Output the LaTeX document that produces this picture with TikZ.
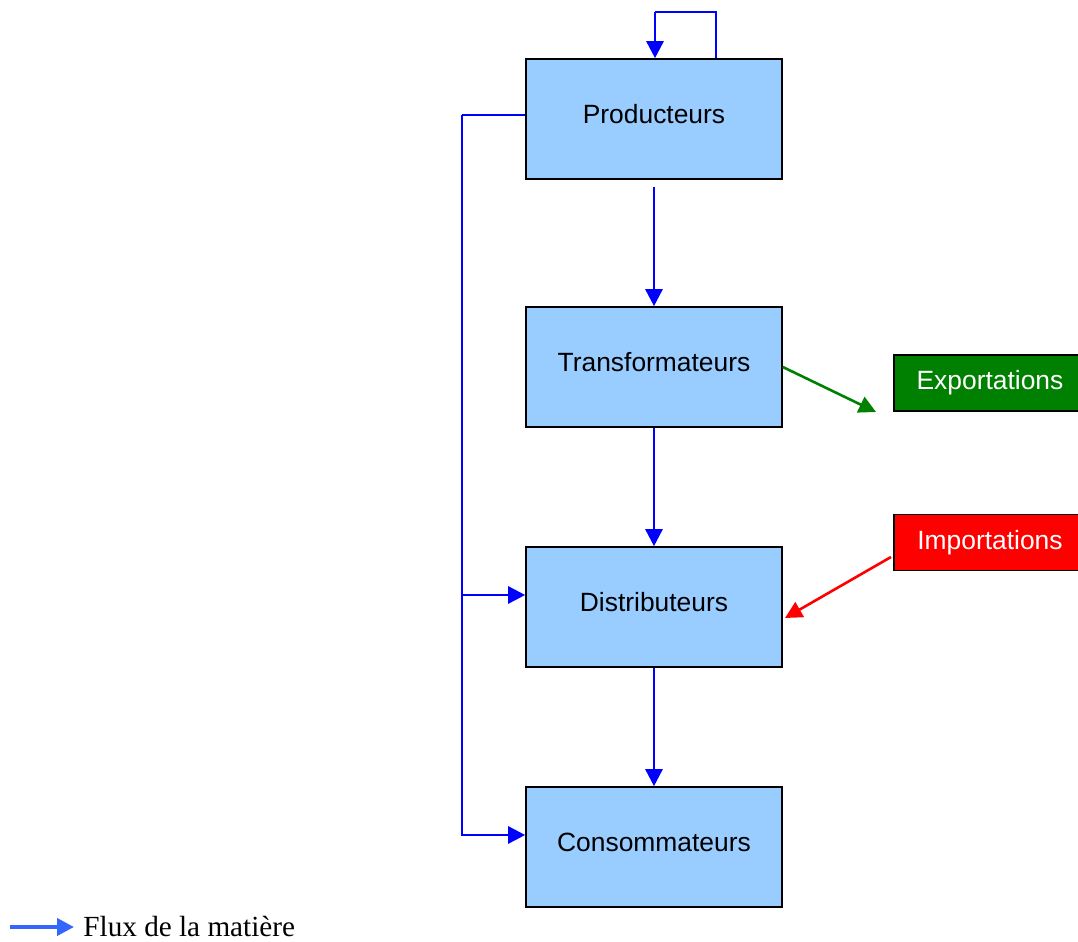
\documentclass[tikz,border=0pt]{standalone}
\usepackage{fontspec}
\setmainfont{Liberation Serif}
\newfontfamily\boxfont{Liberation Sans}
\usetikzlibrary{arrows.meta,calc}
\definecolor{boxblue}{HTML}{99CCFF}
\definecolor{flowblue}{HTML}{0000FF}
\definecolor{expgreen}{HTML}{008000}
\definecolor{impred}{HTML}{FF0000}
\definecolor{legblue}{HTML}{3366FF}
\begin{document}
\begin{tikzpicture}[x=0.5pt,y=-0.5pt,
  actor/.style={draw=black,line width=0.8pt,fill=boxblue,minimum width=128pt,minimum height=60pt,inner sep=0pt,text height=9.5pt,text depth=4.6pt,font=\boxfont\fontsize{13.2}{15}\selectfont},
  extbox/.style={draw=black,line width=0.8pt,minimum width=96pt,minimum height=28pt,inner sep=0pt,text=white,text height=9.5pt,text depth=3pt,font=\boxfont\fontsize{13.2}{15}\selectfont},
  tip/.style={-{Triangle[length=8.5pt,width=8.5pt]}},
  flow/.style={draw=flowblue,line width=1.3pt,tip},
  plain/.style={draw=flowblue,line width=1.3pt}]
\useasboundingbox (0,0) rectangle (1078,942);
\node[actor] (P) at (654,119) {Producteurs};
\node[actor] (T) at (654,367) {Transformateurs};
\node[actor] (D) at (654,607) {Distributeurs};
\node[actor] (C) at (654,847) {Consommateurs};
\node[extbox,fill=expgreen] (E) at (990,383) {Exportations};
\node[extbox,fill=impred] (I) at (990,542.5) {Importations};
% top loop
\coordinate (loopR) at (716,12);
\coordinate (loopL) at (655,12);
\draw[plain] (P.north -| loopR) -- (loopR) -- (loopL);
\draw[flow] (loopL) -- (P.north -| loopL);
% vertical chain
\draw[flow] ([yshift=-3.5pt]P.south) -- (T.north);
\draw[flow] (T.south) -- (D.north);
\draw[flow] (D.south) -- (C.north);
% left bus
\coordinate (bus) at (462,115);
\coordinate (dIn) at (526,595);
\coordinate (cIn) at (526,835);
\draw[plain] (P.west |- bus) -- (bus);
\draw[flow] (bus) |- (C.west |- cIn);
\draw[flow] (bus |- dIn) -- (D.west |- dIn);
% exports / imports
\coordinate (expEnd) at (876,412);
\draw[draw=expgreen,line width=1.3pt,tip] (T.east) -- (expEnd);
\coordinate (impStart) at (891,557);
\coordinate (impEnd) at (785,618);
\draw[draw=impred,line width=1.3pt,tip] (impStart) -- (impEnd);
% legend
\coordinate (legA) at (10,927);
\coordinate (legB) at (74,927);
\draw[draw=legblue,line width=2pt,tip] (legA) -- (legB);
\node[anchor=base west,inner sep=0pt,font=\fontsize{14.6}{16}\selectfont] (leg) at (83,936) {Flux de la matière};
\end{tikzpicture}
\end{document}
